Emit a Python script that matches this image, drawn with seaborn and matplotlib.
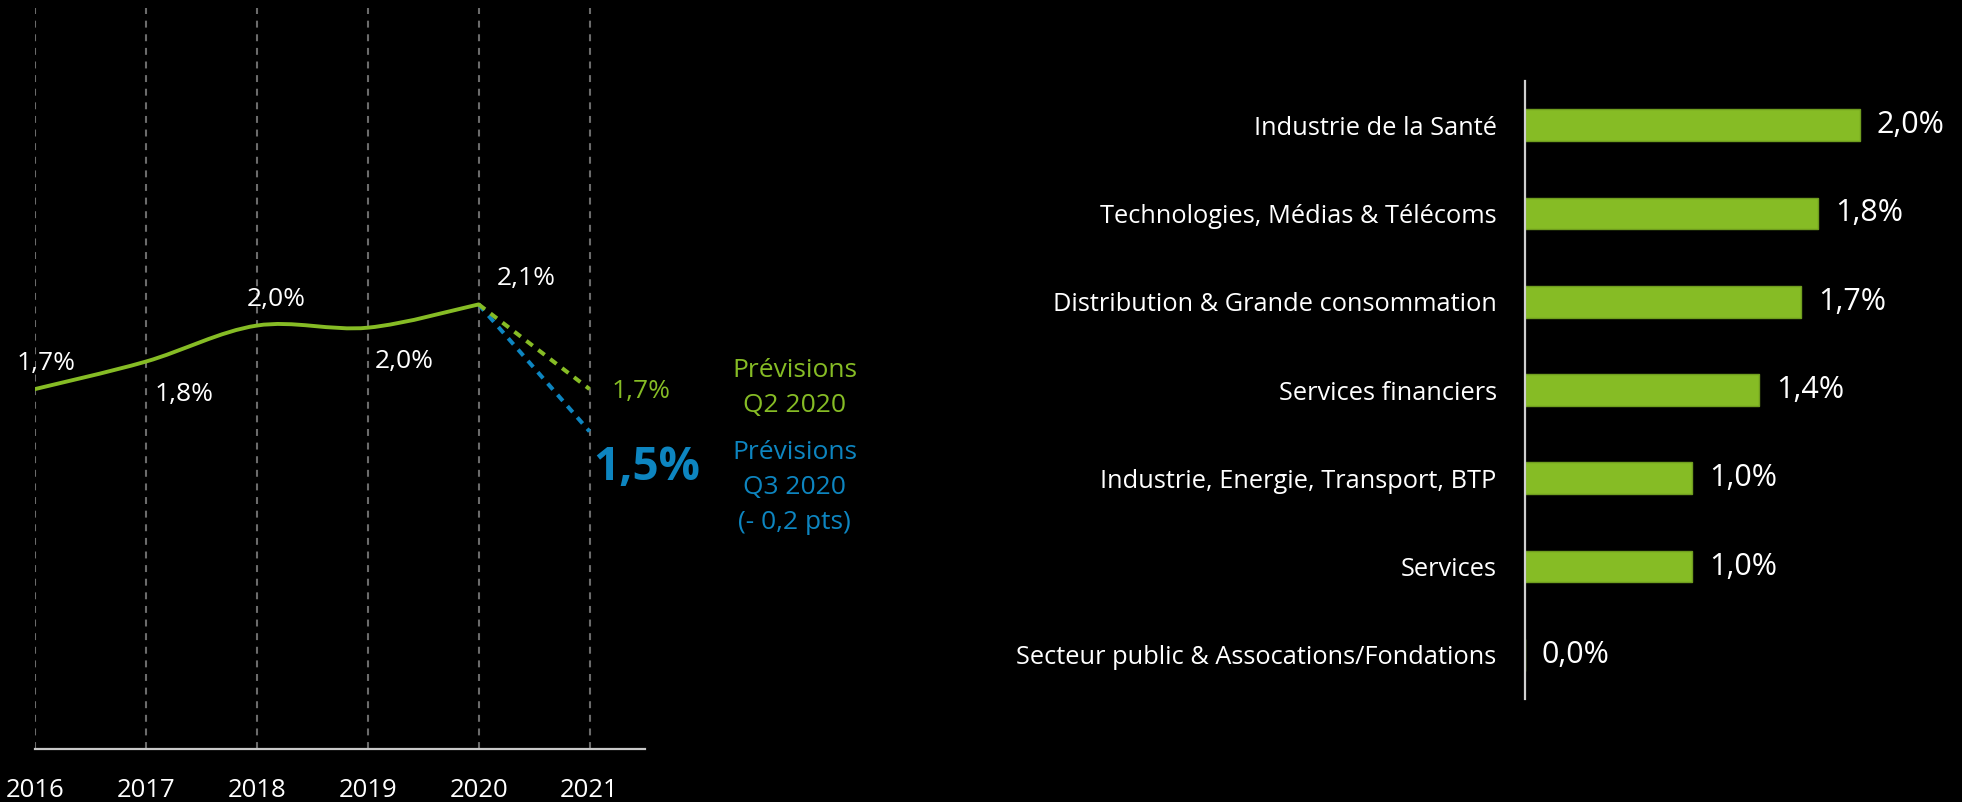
import numpy as np
import pandas as pd
import seaborn as sns
import matplotlib.pyplot as plt
from matplotlib.path import Path
from matplotlib.patches import PathPatch

# growth history (left panel)
years = [2016, 2017, 2018, 2019, 2020]
growth = [1.70, 1.83, 2.00, 1.99, 2.10]
growth_labels = ['1,7%', '1,8%', '2,0%', '2,0%', '2,1%']
forecast_year = 2021
forecast_q2 = 1.70
forecast_q3 = 1.50
forecast_q2_label = '1,7%'
forecast_q3_label = '1,5%'
year_ticks = [2016, 2017, 2018, 2019, 2020, 2021]

# forecast by sector (right panel)
sectors = [
    'Industrie de la Santé',
    'Technologies, Médias & Télécoms',
    'Distribution & Grande consommation',
    'Services financiers',
    'Industrie, Energie, Transport, BTP',
    'Services',
    'Secteur public & Assocations/Fondations',
]
sector_values = [2.0, 1.75, 1.65, 1.4, 1.0, 1.0, 0.0]
sector_labels = ['2,0%', '1,8%', '1,7%', '1,4%', '1,0%', '1,0%', '0,0%']

GREEN = '#86BC25'
BLUE = '#0D85C0'
FONT = ['Open Sans', 'DejaVu Sans']

sns.set_theme(style='dark')
plt.rcParams['font.family'] = FONT
plt.rcParams['lines.scale_dashes'] = False

fig = plt.figure(figsize=(19.62, 8.02), dpi=100, facecolor='black')
W, H = 1962, 802


def axes_px(left, top, right, bottom):
    return fig.add_axes([left / W, 1 - bottom / H, (right - left) / W, (bottom - top) / H])


def smooth_path(xs, ys):
    # catmull-rom style smoothing, like the office "smoothed line"
    pts = np.column_stack([xs, ys]).astype(float)
    ext = np.vstack([pts[0], pts, pts[-1]])
    verts = [pts[0]]
    codes = [Path.MOVETO]
    for i in range(len(pts) - 1):
        p0, p1, p2, p3 = ext[i], ext[i + 1], ext[i + 2], ext[i + 3]
        verts += [p1 + (p2 - p0) / 6, p2 - (p3 - p1) / 6, p2]
        codes += [Path.CURVE4] * 3
    return Path(verts, codes)


# ---------- left: line chart ----------
ax = axes_px(35, 8, 645, 749)
ax.set_facecolor('black')
ax.set_xlim(2016, 2021.5)
ax.set_ylim(0, 3.5)

ax.xaxis.grid(True, color='#6b6b6b', linestyle=(0, (5, 4.8)), lw=1.5)
ax.yaxis.grid(False)
ax.set_xticks(year_ticks)
ax.set_xticklabels([str(y) for y in year_ticks])
ax.set_yticks([])
ax.tick_params(axis='x', colors='white', labelsize=18.5, length=0, pad=21)
for s in ['left', 'right', 'top']:
    ax.spines[s].set_visible(False)
ax.spines['bottom'].set_color('#c8c8c8')
ax.spines['bottom'].set_linewidth(1.6)

sns.lineplot(x=[years[-1], forecast_year], y=[growth[-1], forecast_q3], ax=ax,
             color=BLUE, lw=2.9, linestyle=(0, (5.8, 5)))
sns.lineplot(x=[years[-1], forecast_year], y=[growth[-1], forecast_q2], ax=ax,
             color=GREEN, lw=2.9, linestyle=(0, (5.8, 5)))
ax.add_patch(PathPatch(smooth_path(years, growth), fill=False, edgecolor=GREEN,
                       lw=2.8, capstyle='round', zorder=4))

label_offsets = [(11, 26), (38, -33), (19, 26), (37, -34), (48, 26)]
for x, y, txt, off in zip(years, growth, growth_labels, label_offsets):
    ax.annotate(txt, (x, y), xytext=off, textcoords='offset pixels',
                ha='center', va='center', color='white', fontsize=19)

ax.annotate(forecast_q2_label, (forecast_year, forecast_q2), xytext=(52, -2),
            textcoords='offset pixels', ha='center', va='center',
            color=GREEN, fontsize=19, annotation_clip=False)
ax.annotate(forecast_q3_label, (forecast_year, forecast_q3), xytext=(57, -36),
            textcoords='offset pixels', ha='center', va='center',
            color=BLUE, fontsize=33, fontweight='bold', annotation_clip=False)
ax.annotate('Prévisions\nQ2 2020', (forecast_year, forecast_q2), xytext=(205, 1),
            textcoords='offset pixels', ha='center', va='center', color=GREEN,
            fontsize=19, linespacing=1.52, annotation_clip=False)
ax.annotate('Prévisions\nQ3 2020\n(- 0,2 pts)', (forecast_year, forecast_q3), xytext=(205, -56),
            textcoords='offset pixels', ha='center', va='center', color=BLUE,
            fontsize=19, linespacing=1.52, annotation_clip=False)

# ---------- right: sector bars ----------
ax2 = axes_px(1524.5, 81, 1962, 699)
ax2.set_facecolor('black')
df = pd.DataFrame({'sector': sectors, 'value': sector_values})
sns.barplot(data=df, y='sector', x='value', orient='h', color=GREEN,
            edgecolor='#6f9d1f', linewidth=1, width=0.36, saturation=1, ax=ax2)
ax2.set_xlim(0, 2.607)
ax2.set_ylim(6.5, -0.5)
ax2.set_xlabel('')
ax2.set_ylabel('')
ax2.set_xticks([])
ax2.grid(False)
ax2.tick_params(axis='y', colors='white', labelsize=18.3, length=0, pad=20)
for s in ['bottom', 'right', 'top']:
    ax2.spines[s].set_visible(False)
ax2.spines['left'].set_color('#d0d0d0')
ax2.spines['left'].set_linewidth(1.6)
ax2.bar_label(ax2.containers[0], labels=sector_labels, padding=12,
              color='white', fontsize=22)

fig.savefig('out.png', dpi=100, facecolor='black')
